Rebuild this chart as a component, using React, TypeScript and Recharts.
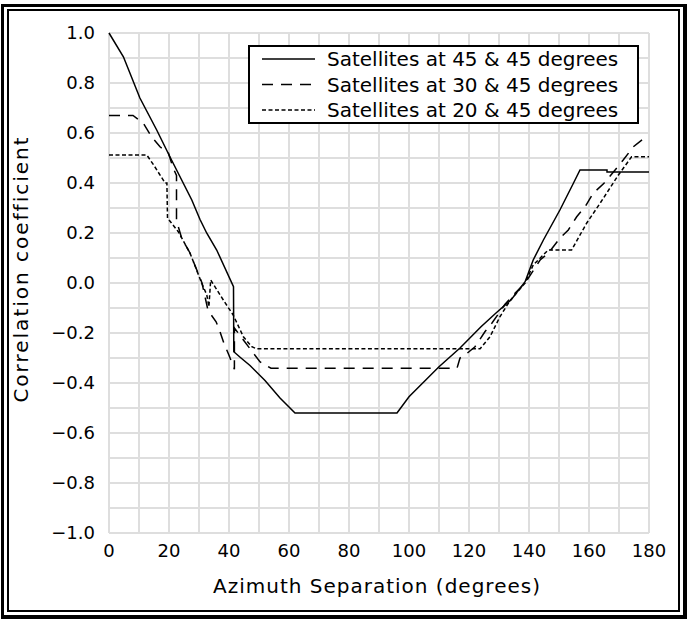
import { CartesianGrid, Label, Line, LineChart, XAxis, YAxis } from "recharts";

const FONT = "'DejaVu Sans', sans-serif";

const xTicks = [0, 10, 20, 30, 40, 50, 60, 70, 80, 90, 100, 110, 120, 130, 140, 150, 160, 170, 180];
const yTicks = [-1.0, -0.9, -0.8, -0.7, -0.6, -0.5, -0.4, -0.3, -0.2, -0.1, 0, 0.1, 0.2, 0.3, 0.4, 0.5, 0.6, 0.7, 0.8, 0.9, 1.0];

const seriesNames = [
  "Satellites at 45 & 45 degrees",
  "Satellites at 30 & 45 degrees",
  "Satellites at 20 & 45 degrees",
];

// [azimuth separation, correlation]
const sat45: [number, number][] = [
  [0, 1.0], [4.8, 0.905], [10.3, 0.74], [15.9, 0.612], [20.3, 0.505], [27.6, 0.332], [30.3, 0.255],
  [32.6, 0.199], [35.9, 0.132], [41.5, -0.015], [41.6, -0.275], [44, -0.3], [47, -0.33], [52, -0.39],
  [57, -0.46], [62, -0.52], [96, -0.52], [100, -0.455], [105, -0.395], [110, -0.335], [117, -0.26],
  [124, -0.175], [129, -0.12], [134, -0.068], [138.7, 0.005], [141.4, 0.092], [144.8, 0.172],
  [150.3, 0.292], [154.8, 0.399], [157, 0.452], [166, 0.452], [166, 0.444], [180, 0.444],
];

const sat30: [number, number][] = [
  [0, 0.67], [8, 0.67], [11.4, 0.64], [14.2, 0.585], [17, 0.545], [19.8, 0.52], [21.4, 0.46],
  [22.5, 0.43], [22.5, 0.25], [24.2, 0.18], [27, 0.12], [29, 0.06], [31, 0.0], [33, -0.11],
  [35.7, -0.155], [37, -0.195], [38.4, -0.244], [40.1, -0.292], [41.8, -0.345], [41.8, -0.18],
  [44.8, -0.228], [50.3, -0.315], [54, -0.341], [116, -0.341], [117, -0.3], [118.7, -0.288],
  [122, -0.255], [125.3, -0.195], [127.6, -0.161], [130, -0.12], [132, -0.085], [135, -0.045],
  [138.7, 0.0], [143.7, 0.092], [146.4, 0.119], [150.3, 0.179], [153.1, 0.212], [155.9, 0.265],
  [158.7, 0.305], [161.4, 0.359], [165, 0.399], [168.7, 0.452], [171.4, 0.492], [174.8, 0.545],
  [178.5, 0.58],
];

const sat20: [number, number][] = [
  [0, 0.512], [12.6, 0.512], [15, 0.47], [18.7, 0.4], [19.3, 0.4], [19.5, 0.26], [23.1, 0.205],
  [27, 0.12], [29.2, 0.052], [30.9, 0.0], [32.6, -0.048], [33.3, -0.095], [33.9, 0.012],
  [38.1, -0.068], [41.4, -0.128], [44.8, -0.215], [47.6, -0.255], [49.2, -0.263], [123.7, -0.263],
  [127, -0.215], [130.3, -0.135], [133.7, -0.07], [138.7, 0.0], [141.4, 0.072], [146.4, 0.132],
  [154.2, 0.132], [159.2, 0.239], [163.7, 0.319], [169.8, 0.432], [174.2, 0.505], [180, 0.505],
];

const toPoints = (pts: [number, number][]) => pts.map(([x, y]) => ({ x, y }));

const series = [
  { name: seriesNames[0], data: toPoints(sat45), dash: undefined as string | undefined },
  { name: seriesNames[1], data: toPoints(sat30), dash: "11 8" },
  { name: seriesNames[2], data: toPoints(sat20), dash: "4 2.5" },
];

function fmtY(v: number) {
  const k = Math.round(v * 10);
  if (k % 2 !== 0) return "";
  const s = (k / 10).toFixed(1);
  return s.startsWith("-") ? "\u2212" + s.slice(1) : s;
}

function fmtX(v: number) {
  return v % 20 === 0 ? String(v) : "";
}

function ChartLegend() {
  return (
    <svg width={391} height={79} style={{ position: "absolute", left: 248, top: 45 }}>
      <rect x={1} y={1} width={389} height={77} fill="#fff" stroke="#000" strokeWidth={2} />
      {series.map((s, i) => {
        const y = 14 + i * 25.5;
        return (
          <g key={s.name}>
            <line x1={14} x2={67} y1={y} y2={y} stroke="#000" strokeWidth={1.5} strokeDasharray={s.dash} />
            <text x={79} y={y} dy="0.36em" fontSize={20} fontFamily={FONT} fill="#000">
              {s.name}
            </text>
          </g>
        );
      })}
    </svg>
  );
}

export default function App() {
  const tick = { fontSize: 18, fill: "#000", fontFamily: FONT };
  return (
    <div style={{ position: "absolute", left: 0, top: 0, width: 687, height: 621, background: "#fff", overflow: "hidden" }}>
      <div
        style={{
          position: "absolute", left: 1, top: 4, width: 686, height: 615, boxSizing: "border-box",
          borderTop: "3px solid #000", borderLeft: "3px solid #000", borderRight: "4px solid #000", borderBottom: "4px solid #000",
        }}
      />
      <div
        style={{
          position: "absolute", left: 7, top: 9, width: 673, height: 603, boxSizing: "border-box",
          border: "2px solid #000",
        }}
      />
      <div style={{ position: "absolute", left: 0, top: 0 }}>
        <LineChart width={687} height={621} margin={{ top: 33, right: 38, bottom: 0, left: 0 }}>
          <CartesianGrid stroke="#dedede" strokeWidth={2} />
          <XAxis
            type="number"
            dataKey="x"
            domain={[0, 180]}
            ticks={xTicks}
            interval={0}
            tickFormatter={fmtX}
            axisLine={false}
            tickLine={false}
            tickSize={6}
            tickMargin={5}
            height={88}
            tick={tick}
          >
            <Label
              content={({ viewBox }: any) => (
                <text
                  x={viewBox.x + viewBox.width / 2 - 2}
                  y={viewBox.y + 60}
                  textAnchor="middle"
                  fontSize={20}
                  letterSpacing={1}
                  fontFamily={FONT}
                  fill="#000"
                >
                  Azimuth Separation (degrees)
                </text>
              )}
            />
          </XAxis>
          <YAxis
            type="number"
            dataKey="y"
            domain={[-1, 1]}
            ticks={yTicks}
            interval={0}
            tickFormatter={fmtY}
            axisLine={false}
            tickLine={false}
            tickSize={6}
            tickMargin={8}
            width={109}
            tick={tick}
          >
            <Label
              content={({ viewBox }: any) => {
                const cx = 21;
                const cy = viewBox.y + viewBox.height / 2 - 14;
                return (
                  <text
                    x={cx}
                    y={cy}
                    dy="0.36em"
                    transform={`rotate(-90 ${cx} ${cy})`}
                    textAnchor="middle"
                    fontSize={20}
                    letterSpacing={2}
                    fontFamily={FONT}
                    fill="#000"
                  >
                    Correlation coefficient
                  </text>
                );
              }}
            />
          </YAxis>
          {series.map((s) => (
            <Line
              key={s.name}
              name={s.name}
              data={s.data}
              dataKey="y"
              type="linear"
              stroke="#000"
              strokeWidth={1.5}
              strokeDasharray={s.dash}
              dot={false}
              activeDot={false}
              isAnimationActive={false}
            />
          ))}
        </LineChart>
      </div>
      <ChartLegend />
    </div>
  );
}
